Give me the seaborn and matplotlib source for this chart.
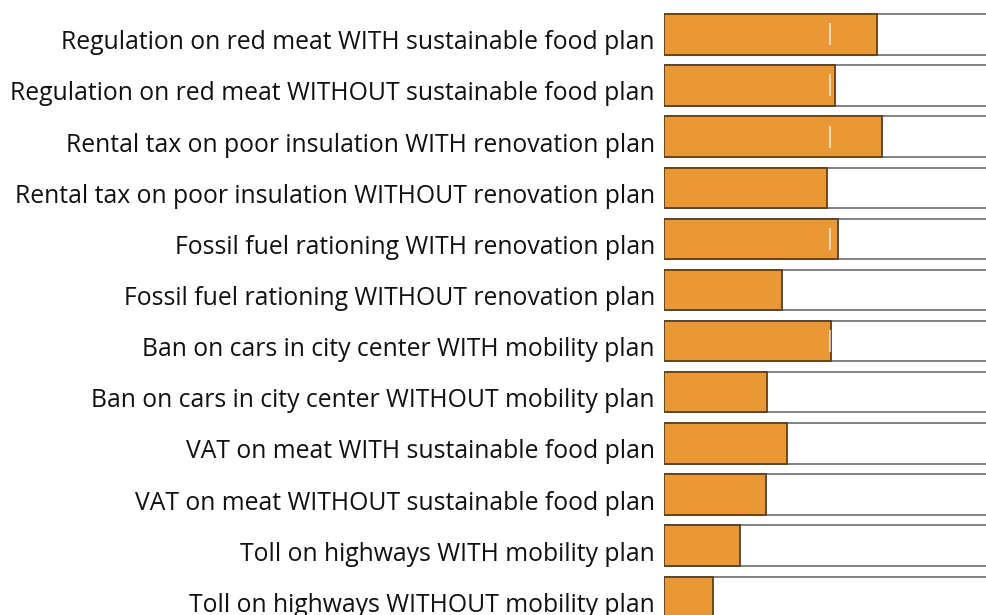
import pandas as pd
import matplotlib
matplotlib.use("Agg")
import matplotlib.pyplot as plt
import matplotlib.transforms as mtransforms
import seaborn as sns

# Policies and share of support (%)
policies = [
    "Regulation on red meat WITH sustainable food plan",
    "Regulation on red meat WITHOUT sustainable food plan",
    "Rental tax on poor insulation WITH renovation plan",
    "Rental tax on poor insulation WITHOUT renovation plan",
    "Fossil fuel rationing WITH renovation plan",
    "Fossil fuel rationing WITHOUT renovation plan",
    "Ban on cars in city center WITH mobility plan",
    "Ban on cars in city center WITHOUT mobility plan",
    "VAT on meat WITH sustainable food plan",
    "VAT on meat WITHOUT sustainable food plan",
    "Toll on highways WITH mobility plan",
    "Toll on highways WITHOUT mobility plan",
]
support = [64.2, 51.5, 65.7, 49.1, 52.4, 35.5, 50.3, 31.0, 37.0, 30.7, 22.9, 14.8]
full_scale = [100] * len(policies)

df = pd.DataFrame({"policy": policies, "support": support, "total": full_scale})

sns.set_theme(style="white")
plt.rcParams["font.family"] = ["Open Sans", "DejaVu Sans"]

fig = plt.figure(figsize=(9.87, 6.15), dpi=100)
ax = fig.add_axes([0.6727, 0.0, 0.3363, 1.0])

# background bar = full 100 %
sns.barplot(data=df, x="total", y="policy", orient="h", color="white",
            edgecolor="#7a7a7a", linewidth=1.3, width=0.79, ax=ax)
# support bar
sns.barplot(data=df, x="support", y="policy", orient="h", color="#E99835",
            saturation=1, edgecolor="#5c4020", linewidth=1.3, width=0.79, ax=ax)

# faint 50 % marker
ax.plot([50] * len(policies), range(len(policies)), ls="none", marker="|",
        markersize=16, markeredgewidth=1.5, color="white", alpha=0.6, zorder=5)

ax.set_xlim(0, 100)
ax.set_ylim(11.357, -0.671)
ax.set_xlabel("")
ax.set_ylabel("")
ax.set_xticks([])
ax.tick_params(axis="y", length=0, pad=6.5, labelsize=17.8, labelcolor="#111111")
shift = mtransforms.ScaledTranslation(0, -4 / 72, fig.dpi_scale_trans)
for lab in ax.get_yticklabels():
    lab.set_fontweight("medium")
    lab.set_transform(lab.get_transform() + shift)
for s in ax.spines.values():
    s.set_visible(False)

fig.savefig("out.png", dpi=100)
